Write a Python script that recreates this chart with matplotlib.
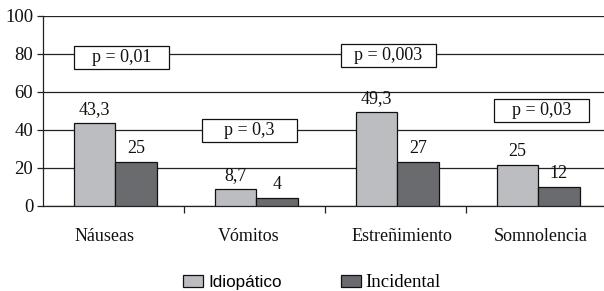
import matplotlib
matplotlib.use("Agg")
import matplotlib.pyplot as plt
from matplotlib.patches import Rectangle, Patch
from matplotlib.font_manager import FontProperties
import numpy as np

categories = ["Náuseas", "Vómitos", "Estreñimiento", "Somnolencia"]
series_names = ["Idiopático", "Incidental"]
# bar heights as drawn
idiopatico = [43.3, 8.7, 49.3, 21.5]
incidental = [23, 4, 23, 10]
# printed value labels
idiopatico_labels = ["43,3", "8,7", "49,3", "25"]
incidental_labels = ["25", "4", "27", "12"]
p_labels = ["p = 0,01", "p = 0,3", "p = 0,003", "p = 0,03"]
yticks = [0, 20, 40, 60, 80, 100]

c_light = "#bcbdc0"
c_dark = "#6a6b6e"
line_c = "#222222"
serif = "Liberation Serif"
sans = "Liberation Sans"

fig = plt.figure(figsize=(6.04, 2.91), dpi=100)
ax = fig.add_axes([43 / 604, 1 - 205.7 / 291, 1 - 43 / 604, (205.7 - 15.7) / 291])

x = np.arange(len(categories))
w = 0.295
b1 = ax.bar(x - 0.135, idiopatico, w, color=c_light, edgecolor="#111111", linewidth=0.9, zorder=3)
b2 = ax.bar(x + 0.16, incidental, w, color=c_dark, edgecolor="#111111", linewidth=0.9, zorder=3)

for bars, labs in ((b1, idiopatico_labels), (b2, incidental_labels)):
    for r, lab in zip(bars, labs):
        ax.annotate(lab, (r.get_x() + r.get_width() / 2, r.get_height()),
                    xytext=(0, 6.5), textcoords="offset points",
                    ha="center", va="baseline", fontsize=13, family=serif, color="#111111", zorder=5)

# p-value boxes (data coords: x-left, y-bottom)
box_pos = [(-0.28, 71.9), (0.628, 33.5), (1.613, 73.0), (2.699, 44.1)]
bw, bh = 0.674, 12.1
for (bx, by), lab in zip(box_pos, p_labels):
    ax.add_patch(Rectangle((bx, by), bw, bh, facecolor="white", edgecolor="#111111",
                           linewidth=0.9, zorder=4))
    ax.text(bx + bw / 2, by + bh / 2, lab, ha="center", va="center", fontsize=13,
            family=serif, color="#111111", zorder=5)

ax.set_ylim(0, 100)
ax.set_xlim(-0.5, 3.48)
ax.set_yticks(yticks)
ax.set_yticklabels([str(t) for t in yticks], family=serif, fontsize=13.5, color="#111111")
ax.yaxis.grid(True, color=line_c, linewidth=0.9, zorder=0)
ax.set_axisbelow(True)

label_x = [-0.067, 0.961, 2.046, 3.032]
ax.set_xticks(label_x)
ax.set_xticklabels(categories, family=serif, fontsize=13, color="#111111")
ax.set_xticks([0.5, 1.5, 2.5], minor=True)
ax.tick_params(axis="x", which="major", length=0, pad=16)
ax.tick_params(axis="x", which="minor", length=5, width=0.9, color=line_c, direction="out")
ax.tick_params(axis="y", length=4, width=0.9, color=line_c, direction="out", pad=3)

for s in ("top", "right"):
    ax.spines[s].set_visible(False)
for s in ("left", "bottom"):
    ax.spines[s].set_color(line_c)
    ax.spines[s].set_linewidth(0.9)

handles = [Patch(facecolor=c_light, edgecolor="#111111", linewidth=0.9),
           Patch(facecolor=c_dark, edgecolor="#111111", linewidth=0.9)]
leg = fig.legend(handles, series_names, loc="lower left", bbox_to_anchor=(183 / 604, 0.0),
                 ncol=2, frameon=False, prop={"family": sans, "size": 12.3},
                 handlelength=1.17, handleheight=0.7, handletextpad=0.3, columnspacing=3.45,
                 borderpad=0.0, borderaxespad=0.0)
leg.get_texts()[1].set_fontproperties(FontProperties(family=serif, size=13.5))

fig.savefig("out.png", dpi=100)
